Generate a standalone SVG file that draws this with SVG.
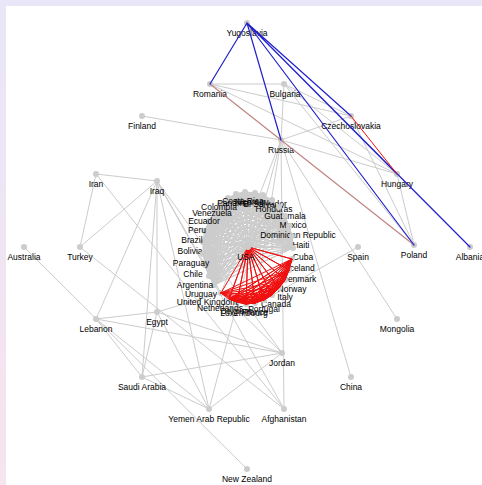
<svg xmlns="http://www.w3.org/2000/svg" width="482" height="485" viewBox="0 0 482 485">
<defs>
<linearGradient id="bg" x1="0" y1="0" x2="0" y2="1">
<stop offset="0" stop-color="#e9e6f8"/>
<stop offset="1" stop-color="#f6e4ee"/>
</linearGradient>
<style>
.n circle{fill:#cccccc}
.n text{font-family:"Liberation Sans",Arial,sans-serif;font-size:8.5px;fill:#000;text-anchor:middle}
.e{fill:none;stroke:#cccccc;stroke-width:1;stroke-linejoin:round;stroke-linecap:round}
.e.red{stroke:#f01010}
.e.blue{stroke:#2020cc;stroke-width:1.2}
.e.brown{stroke:#c08080;stroke-width:1.1}
</style>
</defs>
<rect x="0" y="0" width="482" height="485" fill="url(#bg)"/>
<rect x="6" y="6" width="476" height="479" fill="#ffffff"/>

<g id="connectors">
<path class="e" d="M210 84L284 84M210 84L351 116M210 84L397 174M284 84L281 140M284 84L351 116M284 84L397 174M284 84L414 245M142 116L281 140M281 140L351 116M281 140L397 174M351 116L414 245M397 174L414 245M281 140L351 377M281 140L397 319M281 140L284 409M281 140L209 409M281 140L221 293M281 140L255 303"/>
<path class="e" d="M96 174L157 181M96 174L80 247M157 181L80 247M96 174L284 409M80 247L284 409M157 181L284 409M157 181L96 319M157 181L157 312M157 181L142 377M157 181L282 353M157 181L209 409M157 181L221 293M96 319L157 312M96 319L142 377M96 319L282 353M96 319L209 409M157 312L142 377M157 312L282 353M157 312L209 409M157 312L221 293M142 377L282 353M142 377L209 409M282 353L209 409M282 353L221 293M24 247L247 469M358 247L264 300"/>
<path class="e" d="M248 247L203 242 248 247 205 231 248 247 209 221 248 247 214 212 248 247 220 204 248 247 228 198 248 247 236 194 248 247 245 192 248 247 255 193 248 247 263 195 248 247 272 200 248 247 279 207 248 247 285 216 248 247 289 226 248 247 292 236 248 247 293 248 248 247 214 285 248 247 209 276 248 247 205 265 248 247 203 254
M203 242L205 231 203 242 209 221 203 242 214 212 203 242 220 204 203 242 228 198 203 242 236 194 203 242 245 192 203 242 255 193 203 242 263 195 203 242 272 200 203 242 279 207 203 242 285 216 203 242 289 226 203 242 292 236 203 242 293 248 203 242 214 285 203 242 209 276 203 242 205 265 203 242 203 254
M205 231L209 221 205 231 214 212 205 231 220 204 205 231 228 198 205 231 236 194 205 231 245 192 205 231 255 193 205 231 263 195 205 231 272 200 205 231 279 207 205 231 285 216 205 231 289 226 205 231 292 236 205 231 293 248 205 231 214 285 205 231 209 276 205 231 205 265 205 231 203 254
M209 221L214 212 209 221 220 204 209 221 228 198 209 221 236 194 209 221 245 192 209 221 255 193 209 221 263 195 209 221 272 200 209 221 279 207 209 221 285 216 209 221 289 226 209 221 292 236 209 221 293 248 209 221 214 285 209 221 209 276 209 221 205 265 209 221 203 254
M214 212L220 204 214 212 228 198 214 212 236 194 214 212 245 192 214 212 255 193 214 212 263 195 214 212 272 200 214 212 279 207 214 212 285 216 214 212 289 226 214 212 292 236 214 212 293 248 214 212 214 285 214 212 209 276 214 212 205 265 214 212 203 254
M220 204L228 198 220 204 236 194 220 204 245 192 220 204 255 193 220 204 263 195 220 204 272 200 220 204 279 207 220 204 285 216 220 204 289 226 220 204 292 236 220 204 293 248 220 204 214 285 220 204 209 276 220 204 205 265 220 204 203 254
M228 198L236 194 228 198 245 192 228 198 255 193 228 198 263 195 228 198 272 200 228 198 279 207 228 198 285 216 228 198 289 226 228 198 292 236 228 198 293 248 228 198 214 285 228 198 209 276 228 198 205 265 228 198 203 254
M236 194L245 192 236 194 255 193 236 194 263 195 236 194 272 200 236 194 279 207 236 194 285 216 236 194 289 226 236 194 292 236 236 194 293 248 236 194 214 285 236 194 209 276 236 194 205 265 236 194 203 254
M245 192L255 193 245 192 263 195 245 192 272 200 245 192 279 207 245 192 285 216 245 192 289 226 245 192 292 236 245 192 293 248 245 192 214 285 245 192 209 276 245 192 205 265 245 192 203 254
M255 193L263 195 255 193 272 200 255 193 279 207 255 193 285 216 255 193 289 226 255 193 292 236 255 193 293 248 255 193 214 285 255 193 209 276 255 193 205 265 255 193 203 254
M263 195L272 200 263 195 279 207 263 195 285 216 263 195 289 226 263 195 292 236 263 195 293 248 263 195 214 285 263 195 209 276 263 195 205 265 263 195 203 254
M272 200L279 207 272 200 285 216 272 200 289 226 272 200 292 236 272 200 293 248 272 200 214 285 272 200 209 276 272 200 205 265 272 200 203 254
M279 207L285 216 279 207 289 226 279 207 292 236 279 207 293 248 279 207 214 285 279 207 209 276 279 207 205 265 279 207 203 254
M285 216L289 226 285 216 292 236 285 216 293 248 285 216 214 285 285 216 209 276 285 216 205 265 285 216 203 254
M289 226L292 236 289 226 293 248 289 226 214 285 289 226 209 276 289 226 205 265 289 226 203 254
M292 236L293 248 292 236 214 285 292 236 209 276 292 236 205 265 292 236 203 254
M293 248L214 285 293 248 209 276 293 248 205 265 293 248 203 254
M214 285L209 276 214 285 205 265 214 285 203 254
M209 276L205 265 209 276 203 254
M205 265L203 254"/>
</g>

<g id="nodes">
<g id="n-yugoslavia" class="n"><circle cx="247" cy="23" r="3"/><text x="247" y="35.5">Yugoslavia</text></g>
<g id="n-romania" class="n"><circle cx="210" cy="84" r="3"/><text x="210" y="96.5">Romania</text></g>
<g id="n-bulgaria" class="n"><circle cx="284" cy="84" r="3"/><text x="285" y="96.5">Bulgaria</text></g>
<g id="n-finland" class="n"><circle cx="142" cy="116" r="3"/><text x="142" y="128.5">Finland</text></g>
<g id="n-czechoslovakia" class="n"><circle cx="351" cy="116" r="3"/><text x="351" y="128.5">Czechoslovakia</text></g>
<g id="n-russia" class="n"><circle cx="281" cy="140" r="3"/><text x="281" y="152.5">Russia</text></g>
<g id="n-hungary" class="n"><circle cx="397" cy="174" r="3"/><text x="397" y="186.5">Hungary</text></g>
<g id="n-iran" class="n"><circle cx="96" cy="174" r="3"/><text x="96" y="186.5">Iran</text></g>
<g id="n-iraq" class="n"><circle cx="157" cy="181" r="3"/><text x="157" y="193.5">Iraq</text></g>
<g id="n-australia" class="n"><circle cx="24" cy="247" r="3"/><text x="24" y="259.5">Australia</text></g>
<g id="n-turkey" class="n"><circle cx="80" cy="247" r="3"/><text x="80" y="259.5">Turkey</text></g>
<g id="n-spain" class="n"><circle cx="358" cy="247" r="3"/><text x="358" y="259.5">Spain</text></g>
<g id="n-poland" class="n"><circle cx="414" cy="245" r="3"/><text x="414" y="257.5">Poland</text></g>
<g id="n-albania" class="n"><circle cx="470" cy="247" r="3"/><text x="470" y="259.5">Albania</text></g>
<g id="n-egypt" class="n"><circle cx="157" cy="312" r="3"/><text x="157" y="324.5">Egypt</text></g>
<g id="n-lebanon" class="n"><circle cx="96" cy="319" r="3"/><text x="96" y="331.5">Lebanon</text></g>
<g id="n-mongolia" class="n"><circle cx="397" cy="319" r="3"/><text x="397" y="331.5">Mongolia</text></g>
<g id="n-jordan" class="n"><circle cx="282" cy="353" r="3"/><text x="282" y="365.5">Jordan</text></g>
<g id="n-saudi-arabia" class="n"><circle cx="142" cy="377" r="3"/><text x="142" y="389.5">Saudi Arabia</text></g>
<g id="n-china" class="n"><circle cx="351" cy="377" r="3"/><text x="351" y="389.5">China</text></g>
<g id="n-yemen" class="n"><circle cx="209" cy="409" r="3"/><text x="209" y="421.5">Yemen Arab Republic</text></g>
<g id="n-afghanistan" class="n"><circle cx="284" cy="409" r="3"/><text x="284" y="421.5">Afghanistan</text></g>
<g id="n-new-zealand" class="n"><circle cx="247" cy="469" r="3"/><text x="247" y="481.5">New Zealand</text></g>

<g id="n-bolivia" class="n"><circle cx="203" cy="242" r="3"/><text x="190" y="253.5">Bolivia</text></g>
<g id="n-brazil" class="n"><circle cx="205" cy="231" r="3"/><text x="192" y="242.5">Brazil</text></g>
<g id="n-peru" class="n"><circle cx="209" cy="221" r="3"/><text x="197" y="232.5">Peru</text></g>
<g id="n-ecuador" class="n"><circle cx="214" cy="212" r="3"/><text x="204" y="223.5">Ecuador</text></g>
<g id="n-venezuela" class="n"><circle cx="220" cy="204" r="3"/><text x="212" y="215.5">Venezuela</text></g>
<g id="n-colombia" class="n"><circle cx="228" cy="198" r="3"/><text x="219" y="209.5">Colombia</text></g>
<g id="n-panama" class="n"><circle cx="236" cy="194" r="3"/><text x="233" y="205.5">Panama</text></g>
<g id="n-costa-rica" class="n"><circle cx="245" cy="192" r="3"/><text x="243" y="203.5">Costa Rica</text></g>
<g id="n-nicaragua" class="n"><circle cx="255" cy="193" r="3"/><text x="254" y="204.5">Nicaragua</text></g>
<g id="n-el-salvador" class="n"><circle cx="263" cy="195" r="3"/><text x="265" y="206.5">El Salvador</text></g>
<g id="n-honduras" class="n"><circle cx="272" cy="200" r="3"/><text x="274" y="211.5">Honduras</text></g>
<g id="n-guatemala" class="n"><circle cx="279" cy="207" r="3"/><text x="285" y="218.5">Guatemala</text></g>
<g id="n-mexico" class="n"><circle cx="285" cy="216" r="3"/><text x="293" y="227.5">Mexico</text></g>
<g id="n-dominican-republic" class="n"><circle cx="289" cy="226" r="3"/><text x="298" y="237.5">Dominican Republic</text></g>
<g id="n-haiti" class="n"><circle cx="292" cy="236" r="3"/><text x="301" y="247.5">Haiti</text></g>
<g id="n-cuba" class="n"><circle cx="293" cy="248" r="3"/><text x="303" y="259.5">Cuba</text></g>
<g id="n-iceland" class="n"><circle cx="292" cy="259" r="3"/><text x="301" y="270.5">Iceland</text></g>
<g id="n-denmark" class="n"><circle cx="289" cy="270" r="3"/><text x="299" y="281.5">Denmark</text></g>
<g id="n-norway" class="n"><circle cx="285" cy="280" r="3"/><text x="292" y="291.5">Norway</text></g>
<g id="n-italy" class="n"><circle cx="279" cy="288" r="3"/><text x="285" y="299.5">Italy</text></g>
<g id="n-canada" class="n"><circle cx="272" cy="295" r="3"/><text x="276" y="306.5">Canada</text></g>
<g id="n-portugal" class="n"><circle cx="264" cy="300" r="3"/><text x="264" y="311.5">Portugal</text></g>
<g id="n-france" class="n"><circle cx="255" cy="303" r="3"/><text x="255" y="314.5">France</text></g>
<g id="n-luxembourg" class="n"><circle cx="246" cy="304" r="3"/><text x="244" y="315.5">Luxembourg</text></g>
<g id="n-belgium" class="n"><circle cx="237" cy="302" r="3"/><text x="236" y="313.5">Belgium</text></g>
<g id="n-netherlands" class="n"><circle cx="229" cy="299" r="3"/><text x="220" y="310.5">Netherlands</text></g>
<g id="n-united-kingdom" class="n"><circle cx="221" cy="293" r="3"/><text x="207" y="304.5">United Kingdom</text></g>
<g id="n-uruguay" class="n"><circle cx="214" cy="285" r="3"/><text x="201" y="296.5">Uruguay</text></g>
<g id="n-argentina" class="n"><circle cx="209" cy="276" r="3"/><text x="195" y="287.5">Argentina</text></g>
<g id="n-chile" class="n"><circle cx="205" cy="265" r="3"/><text x="193" y="276.5">Chile</text></g>
<g id="n-paraguay" class="n"><circle cx="203" cy="254" r="3"/><text x="191" y="265.5">Paraguay</text></g>
</g>

<g id="connectors-changed">
<path class="e brown" d="M210 84L414 245"/>
<path class="e blue" d="M247 23L210 84M247 23L281 140M247 23L414 245M247 23L351 116M247 23L397 174M247 23L470 247"/>
<path class="e red" d="M351 116L397 174"/>
<path class="e red" d="M248 247L292 259 248 247 289 270 248 247 285 280 248 247 279 288 248 247 272 295 248 247 264 300 248 247 255 303 248 247 246 304 248 247 237 302 248 247 229 299 248 247 221 293
M292 259L289 270 292 259 285 280 292 259 279 288 292 259 272 295 292 259 264 300 292 259 255 303 292 259 246 304 292 259 237 302 292 259 229 299 292 259 221 293
M289 270L285 280 289 270 279 288 289 270 272 295 289 270 264 300 289 270 255 303 289 270 246 304 289 270 237 302 289 270 229 299 289 270 221 293
M285 280L279 288 285 280 272 295 285 280 264 300 285 280 255 303 285 280 246 304 285 280 237 302 285 280 229 299 285 280 221 293
M279 288L272 295 279 288 264 300 279 288 255 303 279 288 246 304 279 288 237 302 279 288 229 299 279 288 221 293
M272 295L264 300 272 295 255 303 272 295 246 304 272 295 237 302 272 295 229 299 272 295 221 293
M264 300L255 303 264 300 246 304 264 300 237 302 264 300 229 299 264 300 221 293
M255 303L246 304 255 303 237 302 255 303 229 299 255 303 221 293
M246 304L237 302 246 304 229 299 246 304 221 293
M237 302L229 299 237 302 221 293
M229 299L221 293"/>
</g>

<g id="n-usa" class="n"><circle cx="248" cy="247" r="3"/><text x="246" y="259.5">USA</text></g>
</svg>
